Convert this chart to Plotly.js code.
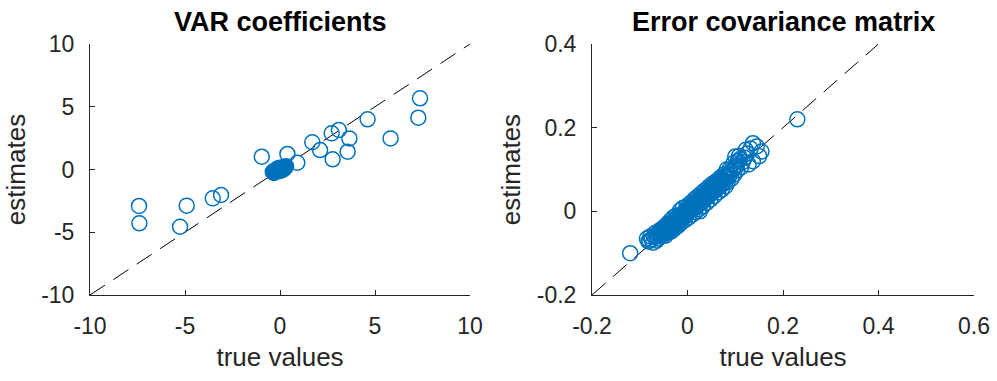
<!DOCTYPE html>
<html><head><meta charset="utf-8">
<script src="https://cdn.plot.ly/plotly-3.0.1.min.js"></script>
<style>html,body{margin:0;padding:0;background:#fff}#chart{width:997px;height:381px}</style>
</head><body><div id="chart"></div>
<script>
// ---- VAR coefficients: true vs estimated ----
var varTrue = [7.37, 7.28, 4.61, 5.82, 3.10, 2.72, 3.65, 1.70, 2.11, 3.56, 2.77, -0.96, 0.39, 0.91,
  -3.10, -3.54, -4.91, -5.26, -7.42, -7.40,
  -0.35, -0.30, -0.25, -0.20, -0.18, -0.15, -0.12, -0.10, -0.08, -0.05, -0.03, 0.00, 0.00, 0.00,
  0.02, 0.04, 0.06, 0.08, 0.10, 0.12, 0.15, 0.18, 0.20, 0.22, 0.25, 0.05, -0.05, -0.22, 0.15,
  -0.38, -0.28, 0.28, 0.32, -0.10, 0.10, -0.15, 0.18, 0.00, 0.00, -0.32, 0.25];
var varEst = [5.67, 4.13, 4.00, 2.48, 3.15, 2.88, 2.48, 2.17, 1.55, 1.42, 0.81, 1.02, 1.24, 0.54,
  -2.03, -2.30, -2.88, -4.56, -2.90, -4.29,
  -0.20, -0.12, -0.18, -0.10, -0.15, -0.05, -0.12, 0.00, -0.08, 0.02, -0.05, 0.00, -0.04, 0.05,
  0.08, 0.00, 0.06, 0.02, 0.10, 0.05, 0.15, 0.08, 0.18, 0.12, 0.20, 0.12, -0.10, -0.08, 0.04,
  -0.18, -0.22, 0.22, 0.26, 0.08, -0.06, 0.06, 0.02, 0.14, -0.12, -0.28, 0.10];

// ---- Error covariance matrix: true vs estimated ----
var covTrue = [-0.120, -0.085, -0.080, -0.075, -0.070, -0.082, -0.065,
  -0.060, -0.055, -0.050, -0.048, -0.045, -0.040, -0.038, -0.035, -0.032, -0.030, -0.028, -0.025,
  -0.022, -0.020, -0.018, -0.015, -0.012, -0.010, -0.008, -0.005, -0.003, 0.000, 0.000, 0.003,
  0.005, 0.008, 0.010, 0.012, 0.015, 0.018, 0.020, 0.022, 0.025, 0.026, 0.028, 0.030, 0.033,
  0.035, 0.038, 0.040, 0.043, 0.045, 0.048, 0.050, 0.053, 0.055, 0.058, 0.060, 0.063, 0.065,
  0.070, 0.072, 0.075, 0.080, 0.082, 0.085, 0.088, 0.090, 0.095, 0.100, 0.103, 0.105, 0.110,
  0.100, 0.103, 0.082, 0.122, 0.137, 0.137, 0.155, 0.230,
  -0.078, -0.072, -0.068, -0.062, -0.058, -0.054, -0.050, -0.046, -0.042, -0.040, -0.036, -0.034,
  -0.030, -0.028, -0.024, -0.020, -0.016, -0.014, -0.010, -0.006, -0.002, 0.002, 0.006, 0.010,
  0.014, 0.016, 0.020, 0.024, 0.028, 0.032, 0.036, 0.040, 0.044, 0.048, 0.052, 0.056, 0.060,
  0.064, 0.068, 0.072, 0.076, 0.080, 0.084, 0.088, 0.092, 0.096, 0.098, 0.104, 0.108, 0.112,
  0.116, 0.120, 0.125, 0.128, 0.132, 0.145, 0.150,
  -0.062, -0.057, -0.052, -0.047, -0.043, -0.037, -0.033, -0.027, -0.023, -0.017, -0.013, -0.007,
  -0.004, 0.001, 0.004, 0.009, 0.013, 0.017, 0.021, 0.027, 0.031, 0.034, 0.039, 0.042, 0.047,
  0.051, 0.054, 0.059, 0.062, 0.067, 0.071, 0.074, 0.078, -0.066, -0.044, -0.021, 0.007, 0.029,
  0.046, 0.066];
var covEst = [-0.100, -0.065, -0.070, -0.068, -0.060, -0.072, -0.070,
  -0.055, -0.045, -0.050, -0.040, -0.052, -0.035, -0.045, -0.030, -0.040, -0.025, -0.035, -0.020,
  -0.030, -0.015, -0.025, -0.010, -0.020, -0.005, -0.015, 0.000, -0.010, 0.005, -0.005, 0.008,
  0.000, 0.012, 0.005, 0.015, 0.008, 0.020, 0.012, 0.025, 0.018, 0.000, 0.030, 0.022, 0.035,
  0.028, 0.040, 0.032, 0.045, 0.038, 0.050, 0.043, 0.055, 0.048, 0.060, 0.052, 0.065, 0.058,
  0.070, 0.063, 0.075, 0.072, 0.080, 0.090, 0.085, 0.095, 0.100, 0.105, 0.110, 0.120, 0.125,
  0.131, 0.108, 0.100, 0.147, 0.163, 0.120, 0.143, 0.220,
  -0.060, -0.075, -0.052, -0.065, -0.045, -0.060, -0.038, -0.058, -0.030, -0.050, -0.022, -0.048,
  -0.015, -0.042, -0.010, -0.035, 0.002, -0.028, 0.008, -0.022, 0.012, -0.015, 0.020, -0.008,
  0.028, -0.002, 0.034, 0.005, 0.042, 0.012, 0.050, 0.020, 0.058, 0.028, 0.066, 0.036, 0.072,
  0.045, 0.080, 0.052, 0.088, 0.060, 0.070, 0.100, 0.078, 0.115, 0.088, 0.098, 0.132, 0.105,
  0.118, 0.128, 0.138, 0.112, 0.150, 0.155, 0.132,
  -0.052, -0.058, -0.042, -0.050, -0.036, -0.041, -0.026, -0.034, -0.017, -0.024, -0.009, -0.014,
  0.002, -0.003, 0.012, 0.003, 0.020, 0.011, 0.028, 0.020, 0.038, 0.027, 0.046, 0.036, 0.054,
  0.045, 0.062, 0.052, 0.070, 0.060, 0.078, 0.068, 0.084, -0.058, -0.036, -0.014, 0.014, 0.036,
  0.053, 0.074];

// reference lines (y = x across the y-axis range)
var refLeft = [-10, 10];
var refRight = [-0.2, 0.4];

// tick labels
var leftTicks = [-10, -5, 0, 5, 10];
var leftTickText = ["-10", "-5", "0", "5", "10"];
var rightXTicks = [-0.2, 0, 0.2, 0.4, 0.6];
var rightXTickText = ["-0.2", "0", "0.2", "0.4", "0.6"];
var rightYTicks = [-0.2, 0, 0.2, 0.4];
var rightYTickText = ["-0.2", "0", "0.2", "0.4"];

var titles = ["VAR coefficients", "Error covariance matrix"];
var xLabel = "true values";
var yLabel = "estimates";

var blue = "#0072BD";
var axisColor = "#262626";
var fontFam = "Liberation Sans, Arial, Helvetica, sans-serif";

var markerStyle = {symbol: "circle-open", size: 15, color: blue, line: {color: blue, width: 1.5}};
var dashStyle = {color: "#000", width: 1, dash: "18px,10px"};

var traces = [
  {x: refLeft, y: refLeft, mode: "lines", line: dashStyle, xaxis: "x", yaxis: "y", hoverinfo: "skip"},
  {x: varTrue, y: varEst, mode: "markers", marker: markerStyle, xaxis: "x", yaxis: "y"},
  {x: refRight, y: refRight, mode: "lines", line: dashStyle, xaxis: "x2", yaxis: "y2", hoverinfo: "skip"},
  {x: covTrue, y: covEst, mode: "markers", marker: markerStyle, xaxis: "x2", yaxis: "y2"}
];

function ax(extra) {
  var base = {
    showline: true, linecolor: axisColor, linewidth: 1, mirror: false,
    showgrid: false, zeroline: false,
    ticks: "inside", ticklen: 5, tickcolor: axisColor, tickwidth: 1,
    tickfont: {family: fontFam, size: 23, color: axisColor},
    tickmode: "array", fixedrange: true
  };
  for (var k in extra) base[k] = extra[k];
  return base;
}

var yDom = [1 - 295/381, 1 - 44/381];
var layout = {
  width: 997, height: 381,
  margin: {l: 0, r: 0, t: 0, b: 0},
  paper_bgcolor: "#fff", plot_bgcolor: "#fff",
  showlegend: false,
  font: {family: fontFam, color: axisColor},
  xaxis: ax({domain: [90/997, 470/997], range: [-10, 10], tickvals: leftTicks, ticktext: leftTickText,
    anchor: "y", ticklabelstandoff: 10,
    title: {text: xLabel, font: {family: fontFam, size: 26, color: axisColor}, standoff: 10}}),
  yaxis: ax({domain: yDom, range: [-10, 10], tickvals: leftTicks, ticktext: leftTickText,
    anchor: "x", ticklabelstandoff: 10,
    title: {text: yLabel, font: {family: fontFam, size: 26, color: axisColor}, standoff: 8}}),
  xaxis2: ax({domain: [592/997, 974/997], range: [-0.2, 0.6], tickvals: rightXTicks, ticktext: rightXTickText,
    anchor: "y2", ticklabelstandoff: 10,
    title: {text: xLabel, font: {family: fontFam, size: 26, color: axisColor}, standoff: 10}}),
  yaxis2: ax({domain: yDom, range: [-0.2, 0.4], tickvals: rightYTicks, ticktext: rightYTickText,
    anchor: "x2", ticklabelstandoff: 10,
    title: {text: yLabel, font: {family: fontFam, size: 26, color: axisColor}, standoff: 8}}),
  annotations: [
    {text: "<b>" + titles[0] + "</b>", xref: "paper", yref: "paper", x: 280/997, y: 1 - 22/381,
     xanchor: "center", yanchor: "middle", showarrow: false, font: {family: fontFam, size: 27, color: "#000"}},
    {text: "<b>" + titles[1] + "</b>", xref: "paper", yref: "paper", x: 783/997, y: 1 - 22/381,
     xanchor: "center", yanchor: "middle", showarrow: false, font: {family: fontFam, size: 27, color: "#000"}}
  ]
};

Plotly.newPlot("chart", traces, layout, {staticPlot: true, displayModeBar: false});
</script></body></html>
